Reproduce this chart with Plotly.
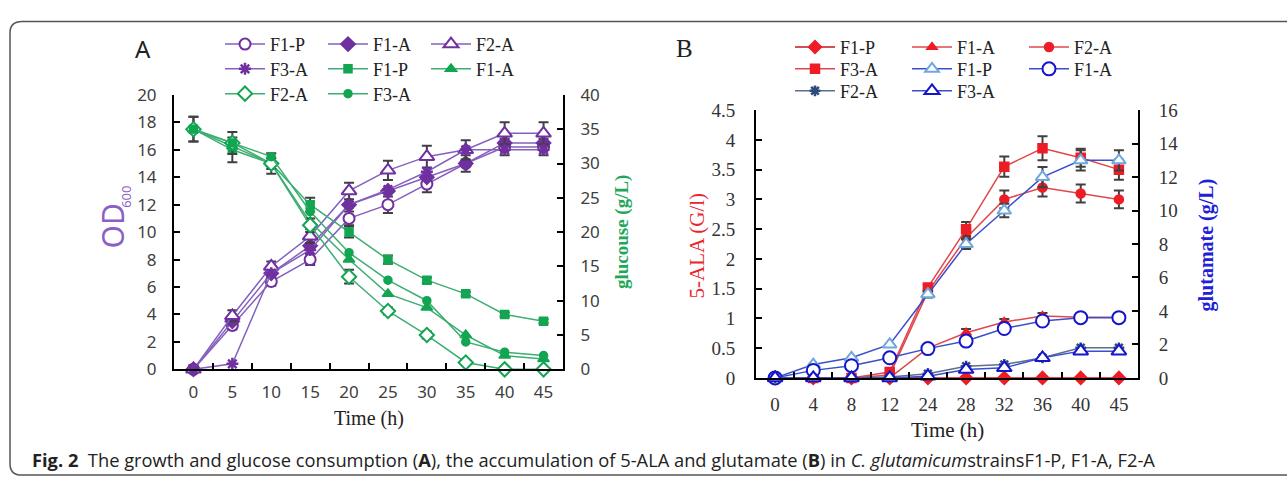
import plotly.graph_objects as go

W, H = 1287, 488

# ---------------- Panel A data ----------------
time_a = ['0', '5', '10', '15', '20', '25', '30', '35', '40', '45']
od_f1p = [0, 3.2, 6.4, 8.0, 11.0, 12.0, 13.5, 15.0, 16.2, 16.2]
od_f1a = [0, 3.5, 7.0, 9.0, 12.0, 13.0, 14.0, 15.0, 16.5, 16.5]
od_f2a = [0, 3.9, 7.5, 9.7, 13.0, 14.5, 15.5, 16.0, 17.2, 17.2]
od_f3a = [0, 0.4, 7.0, 8.7, 12.0, 13.1, 14.4, 16.0, 16.0, 16.0]
od_f1p_err = [0.2, 0.3, 0.3, 0.4, 0.5, 0.6, 0.6, 0.6, 0.6, 0.6]
od_f2a_err = [0.3, 0.4, 0.35, 0.5, 0.6, 0.7, 0.8, 0.7, 0.8, 0.8]

glu_f1p = [35, 32, 30, 24, 20, 16, 13, 11, 8, 7]
glu_f1a = [35, 32.5, 30, 21.5, 16, 11, 9, 5, 2, 1.5]
glu_f2a = [35, 33, 30, 21, 13.5, 8.5, 5, 1, 0, 0]
glu_f3a = [35, 33, 31, 23, 17, 13, 10, 4, 2.5, 2]
glu_f1p_err = [1.8, 1.8, 1.5, 1.0, 0.8, 0.6, 0.4, 0.3, 0.3, 0.3]
glu_f2a_err = [1.8, 1.6, 0.8, 1.0, 1.0, 0.5, 0.5, 0.3, 0.2, 0.2]

# ---------------- Panel B data ----------------
time_b = ['0', '4', '8', '12', '24', '28', '32', '36', '40', '45']
ala_f1p = [0, 0, 0, 0, 0, 0, 0, 0, 0, 0]
ala_f1a = [0, 0, 0, 0, 0.5, 0.76, 0.94, 1.04, 1.02, 1.02]
ala_f2a = [0, 0, 0, 0.05, 1.45, 2.35, 3.0, 3.2, 3.1, 3.0]
ala_f3a = [0, 0, 0, 0.1, 1.52, 2.5, 3.55, 3.86, 3.7, 3.5]
ala_f1a_err = [0, 0, 0, 0, 0.03, 0.06, 0.05, 0.05, 0.03, 0.03]
ala_f2a_err = [0, 0, 0, 0, 0.05, 0.1, 0.15, 0.15, 0.15, 0.15]
ala_f3a_err = [0, 0, 0, 0, 0.05, 0.12, 0.17, 0.2, 0.15, 0.17]

glt_f1p = [0, 0.8, 1.2, 2.0, 5.0, 8.0, 10.0, 12.0, 13.0, 13.0]
glt_f1a = [0, 0.45, 0.73, 1.2, 1.75, 2.2, 2.95, 3.4, 3.6, 3.6]
glt_f2a = [0, 0, 0, 0.05, 0.25, 0.7, 0.8, 1.2, 1.8, 1.8]
glt_f3a = [0, 0, 0, 0, 0.1, 0.5, 0.6, 1.2, 1.6, 1.6]
glt_f1p_err = [0, 0, 0, 0, 0.2, 0.3, 0.4, 0.6, 0.6, 0.6]

# ---------------- colours / fonts ----------------
PURPLE_L = '#8560BE'
PURPLE_M = '#7030A0'
GREEN_L = '#3DAE72'
GREEN_M = '#12A552'
RED = '#EE1C25'
RED_L = '#E0474C'
BLUE = '#1515CC'
BLUE_L = '#3A4FC8'
LBLUE = '#6FA8DC'
SLATE = '#2F4B7C'
ERR = '#404040'
SANS = 'Noto Sans'
SERIF = 'Liberation Serif'


def px(x):
    return x / W


def py(y):
    return 1 - y / H


def err(arr):
    return dict(type='data', array=arr, color=ERR, thickness=2, width=5, visible=True)


fig = go.Figure()


def add(x, y, name, xa, ya, legend, lcolor, mcolor, symbol, size, fill=None,
        lw=1.5, mlw=1.5, e=None):
    fig.add_trace(go.Scatter(
        x=x, y=y, name=name, xaxis=xa, yaxis=ya, legend=legend,
        mode='lines+markers', cliponaxis=False,
        line=dict(color=lcolor, width=lw),
        marker=dict(symbol=symbol, size=size, color=fill if fill else mcolor,
                    line=dict(color=mcolor, width=mlw)),
        error_y=err(e) if e is not None else None,
    ))


# Panel A – OD (left axis)
add(time_a, od_f1p, 'F1-P', 'x', 'y', 'legend', PURPLE_L, PURPLE_M, 'circle', 11, fill='white', mlw=2, e=od_f1p_err)
add(time_a, od_f1a, 'F1-A', 'x', 'y', 'legend', PURPLE_L, PURPLE_M, 'diamond', 11)
add(time_a, od_f2a, 'F2-A', 'x', 'y', 'legend', PURPLE_L, PURPLE_M, 'triangle-up', 13, fill='white', mlw=2, e=od_f2a_err)
add(time_a, od_f3a, 'F3-A', 'x', 'y', 'legend2', PURPLE_L, PURPLE_M, 'asterisk-open', 10, mlw=2.5)
# Panel A – glucose (right axis)
add(time_a, glu_f1p, 'F1-P', 'x', 'y2', 'legend2', GREEN_L, GREEN_M, 'square', 8, e=glu_f1p_err)
add(time_a, glu_f1a, 'F1-A', 'x', 'y2', 'legend2', GREEN_L, GREEN_M, 'triangle-up', 10)
add(time_a, glu_f2a, 'F2-A', 'x', 'y2', 'legend3', GREEN_L, GREEN_M, 'diamond', 11, fill='white', mlw=2, e=glu_f2a_err)
add(time_a, glu_f3a, 'F3-A', 'x', 'y2', 'legend3', GREEN_L, GREEN_M, 'circle', 8)

# Panel B – 5-ALA (left axis)
add(time_b, ala_f1p, 'F1-P', 'x2', 'y3', 'legend4', '#C0171D', RED, 'diamond', 10)
add(time_b, ala_f1a, 'F1-A', 'x2', 'y3', 'legend4', RED_L, RED, 'triangle-up', 9, e=ala_f1a_err)
add(time_b, ala_f2a, 'F2-A', 'x2', 'y3', 'legend4', RED_L, RED, 'circle', 9, e=ala_f2a_err)
add(time_b, ala_f3a, 'F3-A', 'x2', 'y3', 'legend5', RED_L, RED, 'square', 9, e=ala_f3a_err)
# Panel B – glutamate (right axis)
add(time_b, glt_f1p, 'F1-P', 'x2', 'y4', 'legend5', BLUE_L, LBLUE, 'triangle-up', 12, fill='white', mlw=2, e=glt_f1p_err)
add(time_b, glt_f1a, 'F1-A', 'x2', 'y4', 'legend5', BLUE_L, BLUE, 'circle', 13, fill='white', mlw=2)
add(time_b, glt_f2a, 'F2-A', 'x2', 'y4', 'legend6', '#5B6E8F', SLATE, 'asterisk-open', 9, mlw=2.5)
add(time_b, glt_f3a, 'F3-A', 'x2', 'y4', 'legend6', BLUE_L, BLUE, 'triangle-up', 13, fill='white', mlw=2)

tickfontA = dict(family=SANS, size=17, color='#404040')
tickfontB = dict(family=SERIF, size=19, color='#333333')

axis_common = dict(showline=True, linecolor='black', linewidth=2, ticks='inside',
                   ticklen=6, tickwidth=1.5, tickcolor='black', showgrid=False,
                   zeroline=False)

xa_dom = [px(174), px(563)]
ya_dom = [py(375), py(87)]
xb_dom = [px(756), px(1138)]
yb_dom = [py(384), py(103)]

legend_common = dict(orientation='h', xanchor='left', yanchor='middle',
                     bgcolor='rgba(0,0,0,0)', itemwidth=40, entrywidthmode='pixels',
                     font=dict(family=SERIF, size=18, color='#222222'))


def leg(x, y, ew):
    d = dict(legend_common)
    d.update(x=px(x), y=py(y), entrywidth=ew)
    return d


fig.update_layout(
    width=W, height=H, margin=dict(l=0, r=0, t=0, b=0),
    paper_bgcolor='white', plot_bgcolor='white', showlegend=True,
    xaxis=dict(axis_common, domain=xa_dom, anchor='y', type='category',
               categoryorder='array', categoryarray=time_a, range=[-0.5, 9.5],
               tickson='boundaries', tickfont=tickfontA, ticklabelstandoff=6),
    yaxis=dict(axis_common, domain=ya_dom, anchor='x', range=[0, 20], dtick=2,
               tickfont=tickfontA, ticklabelstandoff=12),
    yaxis2=dict(axis_common, overlaying='y', side='right', anchor='x', range=[0, 40],
                dtick=5, tickfont=tickfontA, ticklabelstandoff=12),
    xaxis2=dict(axis_common, domain=xb_dom, anchor='y3', type='category',
                categoryorder='array', categoryarray=time_b, range=[-0.5, 9.5],
                tickson='boundaries', tickfont=tickfontB, ticklabelstandoff=8),
    yaxis3=dict(axis_common, domain=yb_dom, anchor='x2', range=[0, 4.5], dtick=0.5,
                tickfont=tickfontB, ticklabelstandoff=15),
    yaxis4=dict(axis_common, overlaying='y3', side='right', anchor='x2', range=[0, 16],
                dtick=2, tickfont=tickfontB, ticklabelstandoff=15),
    legend=leg(220, 34, 48),
    legend2=leg(220, 60, 48),
    legend3=leg(220, 86, 48),
    legend4=leg(790, 37, 62),
    legend5=leg(790, 60, 62),
    legend6=leg(790, 83, 62),
)

ann = []


def text(x, y, t, font, angle=0, xanchor='center', yanchor='middle'):
    ann.append(dict(x=px(x), y=py(y), xref='paper', yref='paper', text=t,
                    showarrow=False, textangle=angle, font=font,
                    xanchor=xanchor, yanchor=yanchor))


text(143, 38, 'A', dict(family=SANS, size=24, color='#222222'))
text(684, 38, 'B', dict(family=SERIF, size=25, color='#222222'))
text(112, 225, 'OD', dict(family=SANS, size=30, color='#8B5FC6'), angle=-90)
text(126, 194, '600', dict(family=SANS, size=13, color='#8B5FC6'), angle=-90)
text(622, 231, '<b>glucouse (g/L)</b>', dict(family=SERIF, size=19, color='#1FA85A'), angle=-90)
text(369, 427, 'Time (h)', dict(family=SERIF, size=20, color='#222222'))
text(697, 245, '5-ALA (G/l)', dict(family=SERIF, size=21, color='#E8262C'), angle=-90)
text(1206, 245, '<b>glutamate (g/L)</b>', dict(family=SERIF, size=20, color='#2020D8'), angle=-90)
text(947, 439, 'Time (h)', dict(family=SERIF, size=21, color='#222222'))
text(30, 470, '<b>Fig. 2</b>  The growth and glucose consumption (<b>A</b>), the accumulation of '
     '5-ALA and glutamate (<b>B</b>) in <i>C. glutamicum</i>strainsF1-P, F1-A, F2-A',
     dict(family='Open Sans', size=18.3, color='#222222'), xanchor='left')

fig.update_layout(annotations=ann)

# rounded frame around the figure
path = (f'M {px(1300)},{py(10)} L {px(22)},{py(10)} Q {px(10)},{py(10)} {px(10)},{py(22)} '
        f'L {px(10)},{py(474)} Q {px(10)},{py(486)} {px(22)},{py(486)} L {px(1300)},{py(486)}')
fig.add_shape(type='path', path=path, xref='paper', yref='paper',
              line=dict(color='#555555', width=1.5))

fig.write_html('out.html', config={'displayModeBar': False},
               post_script="document.body.style.margin='0px';")
